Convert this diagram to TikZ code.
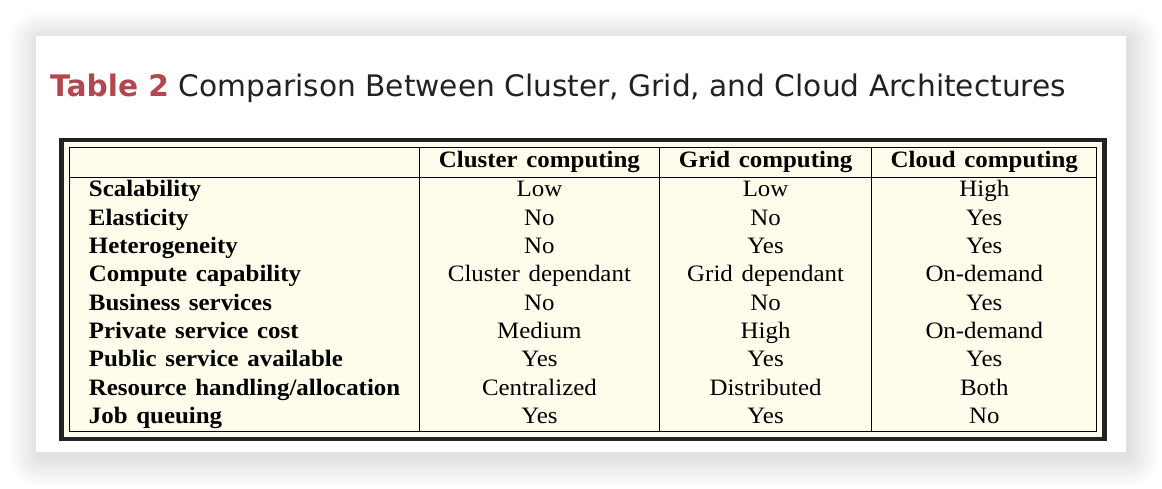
\documentclass[tikz,border=0pt]{standalone}
\usepackage{fontspec}
\setmainfont{Liberation Serif}
\newfontfamily\titlefont{DejaVu Sans}
\newfontfamily\tabfont{Liberation Serif}[FakeStretch=1.06]
\newcommand\tabsize{\tabfont\fontsize{23.5}{28}\selectfont\spaceskip 8.7pt\relax}
\definecolor{tabred}{HTML}{B4464F}
\definecolor{cream}{HTML}{FEFCEB}
\definecolor{inkgray}{HTML}{222222}

\begin{document}
\begin{tikzpicture}[x=1pt,y=-1pt,
	cell/.style={anchor=base,inner sep=0pt,font=\tabsize},
	colhead/.style={cell,font=\tabsize\bfseries},
	rowhead/.style={colhead,anchor=base west}]
	\useasboundingbox (0,0) rectangle (1162,488);
	\fill[white] (0,0) rectangle (1162,488);
	% card with soft shadow
	\foreach \k in {1,...,30}
		\fill[black,opacity=0.005,rounded corners=\k pt] (39-\k,41-\k) rectangle (1129+\k,457+\k);
	\fill[white] (36,36) rectangle (1126,452);
	\node[anchor=base west,inner sep=0pt,text=inkgray,font=\titlefont\fontsize{29.65}{32}\selectfont] (title) at (50,96) {\textcolor{tabred}{\bfseries Table 2} Comparison Between Cluster, Grid, and Cloud Architectures};
	% table frame
	\draw[line width=4.5pt,draw=inkgray,fill=cream] (61.5,139.8) rectangle (1104.3,439.2);
	\coordinate (tl) at (69.3,147.3);
	\coordinate (br) at (1096.8,431);
	\draw[line width=1pt] (tl) rectangle (br);
	\draw[line width=1pt] (69.3,177.3) -- (1096.8,177.3);
	\foreach \x in {419.3,659.5,871.7}
		\draw[line width=1pt] (\x,147.3) -- (\x,431);
	% header
	\node[colhead] (hcl) at (539.4,167.7) {Cluster computing};
	\node[colhead] (hgr) at (765.6,167.7) {Grid computing};
	\node[colhead] (hcd) at (984.3,167.7) {Cloud computing};
	% rows
	\foreach \lbl/\cl/\gr/\cd [count=\i from 0] in {
		Scalability/Low/Low/High,
		Elasticity/No/No/Yes,
		Heterogeneity/No/Yes/Yes,
		Compute capability/Cluster dependant/Grid dependant/On-demand,
		Business services/No/No/Yes,
		Private service cost/Medium/High/On-demand,
		Public service available/Yes/Yes/Yes,
		{Resource handling/allocation}/Centralized/Distributed/Both,
		Job queuing/Yes/Yes/No}
	{
		\node[rowhead] (r\i) at (88.7,196.7+28.33*\i) {\lbl};
		\node[cell] (c\i) at (539.4,196.7+28.33*\i) {\cl};
		\node[cell] (g\i) at (765.6,196.7+28.33*\i) {\gr};
		\node[cell] (d\i) at (984.3,196.7+28.33*\i) {\cd};
	}
\end{tikzpicture}
\end{document}
